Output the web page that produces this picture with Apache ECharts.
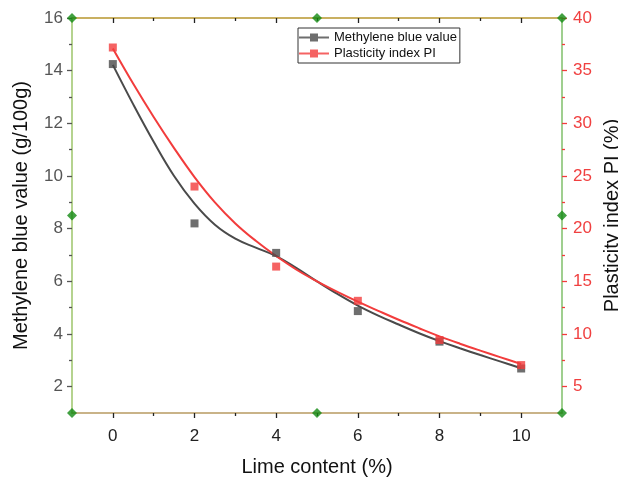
<!DOCTYPE html>
<html>
<head>
<meta charset="utf-8">
<script src="https://cdn.jsdelivr.net/npm/echarts@6/dist/echarts.min.js"></script>
<style>
  html, body { margin: 0; padding: 0; background: #fff; }
  #chart { width: 618px; height: 478px; }
</style>
</head>
<body>
<div id="chart"></div>
<script>
// measured points
const limeContent = [0, 2, 4, 6, 8, 10];
const mbValue = [14.25, 8.2, 7.08, 4.87, 3.71, 2.69];
const piValue = [37.2, 24.0, 16.4, 13.15, 9.43, 7.05];

// fitted curves
const fitX = [0, 0.5, 1, 1.5, 2, 2.5, 3, 3.5, 4, 4.5, 5, 5.5, 6, 6.5, 7, 7.5, 8, 8.5, 9, 9.5, 10];
const mbFit = [14.22, 12.72, 11.3, 10.0, 8.95, 8.15, 7.62, 7.28, 6.96, 6.5, 6.0, 5.52, 5.08, 4.7, 4.36, 4.03, 3.73, 3.46, 3.2, 2.95, 2.7];
const piFit = [37.1, 33.75, 30.6, 27.65, 24.9, 22.5, 20.5, 18.85, 17.4, 16.1, 15.0, 14.0, 13.07, 12.2, 11.35, 10.55, 9.78, 9.08, 8.42, 7.78, 7.15];

// tick labels
const xLabels = [0, 2, 4, 6, 8, 10];
const xMinor = [1, 3, 5, 7, 9];
const leftLabels = [2, 4, 6, 8, 10, 12, 14, 16];
const leftMinor = [3, 5, 7, 9, 11, 13, 15];
const rightLabels = [5, 10, 15, 20, 25, 30, 35, 40];
const rightMinor = [7.5, 12.5, 17.5, 22.5, 27.5, 32.5, 37.5];

// Origin selection handles on the frame
const handleX = [-1, 5, 11, -1, 11, -1, 5, 11];
const handleY = [16, 16, 16, 8.5, 8.5, 1, 1, 1];

const FONT = "Liberation Sans, Arial, sans-serif";
const BLACK = "#4a4a4a";
const RED = "#f23c3c";
const legendIcon = "path://M0 4h30v2h-30z M11 1h8v8h-8z";

const chart = echarts.init(document.getElementById("chart"));

function xAx(pos, ticks, len, inside, lineColor, labels) {
  return {
    type: "value", position: pos, min: -1, max: 11,
    axisLine: { show: !!lineColor, onZero: false, lineStyle: { color: lineColor || "#000", width: 1.5 } },
    axisTick: { show: true, inside: inside, length: len, customValues: ticks, lineStyle: { color: "#222", width: 1.3 } },
    axisLabel: labels ? { show: true, customValues: labels, color: "#222", fontSize: 17, fontFamily: FONT, margin: 15 } : { show: false },
    splitLine: { show: false },
  };
}

function yAx(pos, min, max, ticks, len, lineColor, tickColor, labels, labelColor) {
  return {
    type: "value", position: pos, min: min, max: max,
    axisLine: { show: !!lineColor, onZero: false, lineStyle: { color: lineColor || "#000", width: 1.5 } },
    axisTick: { show: true, length: len, customValues: ticks, lineStyle: { color: tickColor, width: 1.3 } },
    axisLabel: labels ? { show: true, customValues: labels, color: labelColor, fontSize: 17, fontFamily: FONT, margin: pos === "right" ? 11 : 9 } : { show: false },
    splitLine: { show: false },
  };
}

const xBottom = xAx("bottom", xLabels, 5, false, "#b89a62", xLabels);
xBottom.name = "Lime content (%)";
xBottom.nameLocation = "middle";
xBottom.nameGap = 44;
xBottom.nameTextStyle = { color: "#111", fontSize: 20, fontFamily: FONT };

const yLeft = yAx("left", 1, 16, leftLabels, 5, "#9cc46a", "#555", leftLabels, "#555");
yLeft.name = "Methylene blue value (g/100g)";
yLeft.nameLocation = "middle";
yLeft.nameGap = 41;
yLeft.nameRotate = 90;
yLeft.nameTextStyle = { color: "#111", fontSize: 20, fontFamily: FONT };

const yRight = yAx("right", 2.5, 40, rightLabels, 5, "#7fbf6a", RED, rightLabels, "#f04040");
yRight.name = "Plasticity index PI (%)";
yRight.nameLocation = "middle";
yRight.nameGap = 32;
yRight.nameRotate = 90;
yRight.nameTextStyle = { color: "#111", fontSize: 20, fontFamily: FONT, padding: [0, 0, 8, 0] };

const option = {
  backgroundColor: "#fff",
  animation: false,
  grid: { left: 72, right: 56, top: 18, bottom: 65, outerBoundsMode: "none" },
  legend: {
    orient: "vertical",
    left: 298, top: 28,
    padding: [3, 3, 3, 1],
    itemGap: 3,
    itemWidth: 30, itemHeight: 10,
    borderColor: "#333", borderWidth: 1, borderRadius: 0,
    textStyle: { color: "#111", fontSize: 13, fontFamily: FONT },
    data: [
      { name: "Methylene blue value", icon: legendIcon },
      { name: "Plasticity index PI", icon: legendIcon },
    ],
  },
  xAxis: [
    xBottom,
    xAx("bottom", xMinor, 3, false, null, null),
    xAx("top", xLabels, 5, true, "#b8962e", null),
    xAx("top", xMinor, 3, true, null, null),
  ],
  yAxis: [
    yLeft,
    yAx("left", 1, 16, leftMinor, 3, null, "#555", null),
    yRight,
    yAx("right", 2.5, 40, rightMinor, 3, null, RED, null),
  ],
  series: [
    {
      name: "mbFit", type: "line", xAxisIndex: 0, yAxisIndex: 0,
      data: fitX.map((x, i) => [x, mbFit[i]]),
      smooth: 0.4, showSymbol: false, symbol: "none",
      lineStyle: { color: BLACK, width: 2 },
      silent: true, z: 2,
    },
    {
      name: "piFit", type: "line", xAxisIndex: 0, yAxisIndex: 2,
      data: fitX.map((x, i) => [x, piFit[i]]),
      smooth: 0.4, showSymbol: false, symbol: "none",
      lineStyle: { color: RED, width: 2 },
      silent: true, z: 3,
    },
    {
      name: "Methylene blue value", type: "scatter", xAxisIndex: 0, yAxisIndex: 0,
      data: limeContent.map((x, i) => [x, mbValue[i]]),
      symbol: "rect", symbolSize: 8,
      itemStyle: { color: BLACK },
      z: 4,
    },
    {
      name: "Plasticity index PI", type: "scatter", xAxisIndex: 0, yAxisIndex: 2,
      data: limeContent.map((x, i) => [x, piValue[i]]),
      symbol: "rect", symbolSize: 8,
      itemStyle: { color: RED },
      z: 5,
    },
    {
      name: "handles", type: "scatter", xAxisIndex: 0, yAxisIndex: 0,
      data: handleX.map((x, i) => [x, handleY[i]]),
      symbol: "diamond", symbolSize: 10, clip: false,
      itemStyle: { color: "#138a13" },
      silent: true, z: 10,
    },
  ],
};

chart.setOption(option);
</script>
</body>
</html>
